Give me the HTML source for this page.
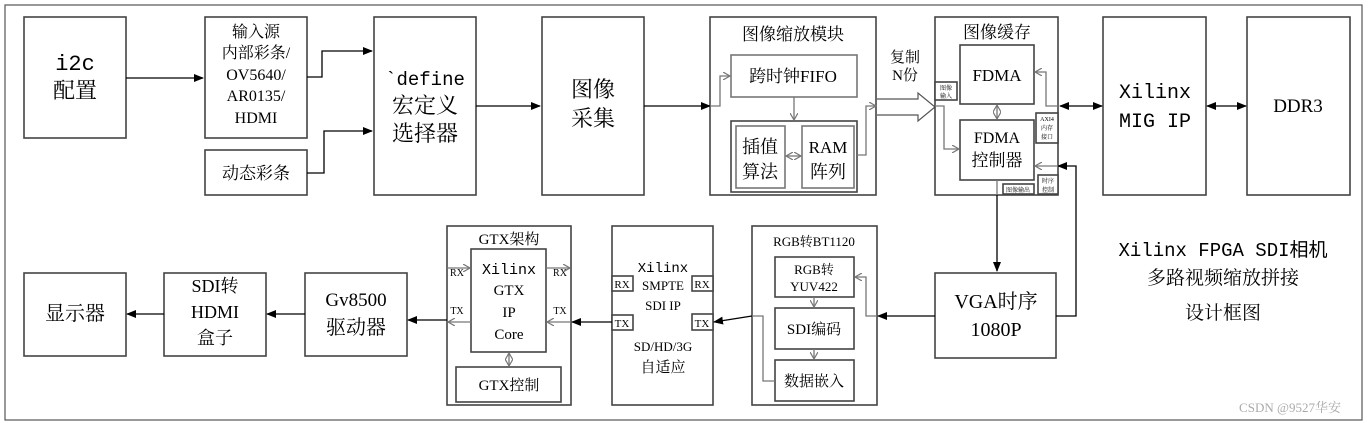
<!DOCTYPE html>
<html><head><meta charset="utf-8"><style>
html,body{margin:0;padding:0;background:#fff;}
svg{display:block;}
text{font-family:"Liberation Serif","Noto Serif CJK SC",serif;fill:#000;text-anchor:middle;}
.m{font-family:"Liberation Mono","Noto Sans CJK SC",monospace;}
.b{fill:#fff;stroke:#444;stroke-width:1.6;}
.g{fill:#fff;stroke:#777;stroke-width:1.6;}
.l{fill:none;stroke:#000;stroke-width:1.3;}
.gl{fill:none;stroke:#777;stroke-width:1.3;}
</style></head><body>
<svg width="1370" height="423" viewBox="0 0 1370 423">
<defs>
<marker id="a" markerWidth="10" markerHeight="8" refX="9" refY="4" orient="auto" markerUnits="userSpaceOnUse"><path d="M0,0 L10,4 L0,8z" fill="#000"/></marker>
<marker id="as" markerWidth="10" markerHeight="8" refX="1" refY="4" orient="auto" markerUnits="userSpaceOnUse"><path d="M10,0 L0,4 L10,8z" fill="#000"/></marker>
<marker id="g" markerWidth="8" markerHeight="8" refX="7" refY="4" orient="auto" markerUnits="userSpaceOnUse"><path d="M0,0 L7,4 L0,8" fill="none" stroke="#777" stroke-width="1.2"/></marker>
<marker id="gs" markerWidth="8" markerHeight="8" refX="1" refY="4" orient="auto" markerUnits="userSpaceOnUse"><path d="M8,0 L1,4 L8,8" fill="none" stroke="#777" stroke-width="1.2"/></marker>
</defs>
<rect x="5" y="5" width="1357" height="415" fill="none" stroke="#555" stroke-width="1.2"/>

<rect class="b" x="24" y="17" width="102" height="121"/>
<text x="75" y="70" font-size="22" class="m">i2c</text><text x="75" y="98" font-size="22">配置</text>
<rect class="b" x="205" y="17" width="102" height="121"/>
<text font-size="16"><tspan x="256" y="37">输入源</tspan><tspan x="256" y="58">内部彩条/</tspan><tspan x="256" y="80">OV5640/</tspan><tspan x="256" y="101">AR0135/</tspan><tspan x="256" y="123">HDMI</tspan></text>
<rect class="b" x="205" y="150" width="102" height="45"/>
<text x="256" y="179" font-size="17">动态彩条</text>
<rect class="b" x="374" y="17" width="102" height="178"/>
<text x="425" y="85" font-size="19" class="m">`define</text>
<text x="425" y="113" font-size="22">宏定义</text><text x="425" y="141" font-size="22">选择器</text>
<rect class="b" x="542" y="17" width="102" height="178"/>
<text x="593" y="97" font-size="22">图像</text><text x="593" y="126" font-size="22">采集</text>

<rect class="b" x="710" y="17" width="166" height="178"/>
<text x="793" y="40" font-size="17">图像缩放模块</text>
<rect class="g" x="731" y="55" width="126" height="42"/>
<text x="793" y="82" font-size="17">跨时钟FIFO</text>
<rect class="b" x="731" y="121" width="126" height="71"/>
<rect class="g" x="736" y="126" width="49" height="62"/>
<text x="760" y="153" font-size="18">插值</text><text x="760" y="178" font-size="18">算法</text>
<rect class="g" x="802" y="126" width="52" height="62"/>
<text x="828" y="153" font-size="17">RAM</text><text x="828" y="178" font-size="18">阵列</text>

<text x="905" y="62" font-size="15" font-family="Liberation Sans,Noto Sans CJK SC,sans-serif">复制</text>
<text x="905" y="80" font-size="15" font-family="Liberation Sans,Noto Sans CJK SC,sans-serif">N份</text>
<path d="M877,99 L918,99 L918,93 L935,107 L918,121 L918,115 L877,115" fill="#fff" stroke="#555" stroke-width="1.2"/>

<rect class="b" x="935" y="17" width="123" height="178"/>
<text x="997" y="38" font-size="17">图像缓存</text>
<rect class="b" x="960" y="45" width="74" height="59"/>
<text x="997" y="81" font-size="17">FDMA</text>
<rect class="b" x="960" y="120" width="74" height="60"/>
<text x="997" y="143" font-size="16">FDMA</text><text x="997" y="166" font-size="17">控制器</text>
<rect class="b" x="935" y="82" width="22" height="18"/><text x="946" y="90" font-size="6">图像</text><text x="946" y="98" font-size="6">输入</text>
<rect class="b" x="1036" y="113" width="22" height="30"/><text x="1047" y="121" font-size="6">AXI4</text><text x="1047" y="130" font-size="6">内存</text><text x="1047" y="139" font-size="6">接口</text>
<rect class="b" x="1038" y="175" width="20" height="19"/><text x="1048" y="183" font-size="6">时序</text><text x="1048" y="192" font-size="6">控制</text>
<rect class="b" x="1003" y="184" width="31" height="10"/><text x="1018" y="192" font-size="6">图像输出</text>

<rect class="b" x="1103" y="17" width="103" height="178"/>
<text x="1155" y="98" font-size="20" class="m">Xilinx</text><text x="1155" y="127" font-size="20" class="m">MIG IP</text>
<rect class="b" x="1247" y="17" width="103" height="178"/>
<text x="1298" y="112" font-size="19" font-family="Liberation Sans,sans-serif">DDR3</text>

<rect class="b" x="935" y="273" width="121" height="85"/>
<text x="996" y="308" font-size="20">VGA时序</text><text x="996" y="336" font-size="20">1080P</text>

<rect class="b" x="752" y="226" width="125" height="179"/>
<text x="814" y="246" font-size="13">RGB转BT1120</text>
<rect class="b" x="775" y="257" width="79" height="40"/>
<text x="814" y="274" font-size="13">RGB转</text><text x="814" y="291" font-size="13">YUV422</text>
<rect class="b" x="775" y="308" width="79" height="41"/><text x="814" y="334" font-size="15">SDI编码</text>
<rect class="b" x="775" y="360" width="79" height="41"/><text x="814" y="386" font-size="15">数据嵌入</text>

<rect class="b" x="612" y="226" width="101" height="179"/>
<text x="663" y="272" font-size="14" class="m">Xilinx</text>
<text x="663" y="290" font-size="13">SMPTE</text><text x="663" y="310" font-size="13">SDI IP</text>
<text x="663" y="351" font-size="13">SD/HD/3G</text><text x="663" y="372" font-size="15">自适应</text>
<rect class="b" x="612" y="276" width="21" height="15"/><text x="622" y="288" font-size="11">RX</text>
<rect class="b" x="692" y="276" width="21" height="15"/><text x="702" y="288" font-size="11">RX</text>
<rect class="b" x="612" y="315" width="21" height="15"/><text x="622" y="327" font-size="11">TX</text>
<rect class="b" x="692" y="314" width="21" height="16"/><text x="702" y="327" font-size="11">TX</text>

<rect class="b" x="447" y="226" width="124" height="179"/>
<text x="509" y="244" font-size="15">GTX架构</text>
<rect class="b" x="471" y="249" width="75" height="103"/>
<text x="509" y="274" font-size="15" class="m">Xilinx</text><text x="509" y="295" font-size="15">GTX</text><text x="509" y="317" font-size="15">IP</text><text x="509" y="339" font-size="15">Core</text>
<rect class="b" x="456" y="367" width="105" height="35"/><text x="509" y="390" font-size="15">GTX控制</text>
<text x="457" y="276" font-size="10">RX</text><text x="560" y="276" font-size="10">RX</text>
<text x="457" y="314" font-size="10">TX</text><text x="560" y="314" font-size="10">TX</text>

<rect class="b" x="305" y="273" width="102" height="83"/>
<text x="356" y="306" font-size="19">Gv8500</text><text x="356" y="334" font-size="20">驱动器</text>
<rect class="b" x="164" y="273" width="102" height="83"/>
<text x="215" y="292" font-size="18">SDI转</text><text x="215" y="318" font-size="18">HDMI</text><text x="215" y="344" font-size="18">盒子</text>
<rect class="b" x="24" y="273" width="102" height="83"/>
<text x="75" y="320" font-size="20">显示器</text>

<text x="1223" y="256" font-size="19" class="m">Xilinx FPGA SDI相机</text>
<text x="1223" y="284" font-size="19">多路视频缩放拼接</text>
<text x="1223" y="319" font-size="19">设计框图</text>
<text x="1290" y="412" font-size="13" font-family="Liberation Sans,Noto Sans CJK SC,sans-serif" style="fill:#aaa">CSDN @9527华安</text>

<path class="l" d="M126,78 H203" marker-end="url(#a)"/>
<path class="l" d="M307,77 H322 V51 H372" marker-end="url(#a)"/>
<path class="l" d="M307,173 H324 V131 H372" marker-end="url(#a)"/>
<path class="l" d="M476,106 H540" marker-end="url(#a)"/>
<path class="l" d="M644,106 H710" marker-end="url(#a)"/>
<path class="gl" d="M710,106 H720 V76 H730" marker-end="url(#g)"/>
<path class="gl" d="M794,97 V120" marker-end="url(#g)"/>
<path class="gl" d="M786,156 H801" marker-start="url(#gs)" marker-end="url(#g)"/>
<path class="gl" d="M857,155 H866 V106 H876" marker-end="url(#g)"/>
<path class="gl" d="M935,106 H944 V149 H959" marker-end="url(#g)"/>
<path class="gl" d="M997,105 V119" marker-start="url(#gs)" marker-end="url(#g)"/>
<path class="gl" d="M1035,72 H1046 V106 H1058" marker-start="url(#gs)"/>
<path class="l" d="M1060,106 H1102" marker-start="url(#as)" marker-end="url(#a)"/>
<path class="l" d="M1207,106 H1246" marker-start="url(#as)" marker-end="url(#a)"/>
<path class="gl" d="M997,180 V195"/>
<path class="l" d="M997,195 V271" marker-end="url(#a)"/>
<path class="l" d="M1056,316 H1076 V166 H1058" marker-end="url(#a)"/>
<path class="gl" d="M1058,166 H1035" marker-end="url(#g)"/>
<path class="l" d="M935,316 H878" marker-end="url(#a)"/>
<path class="gl" d="M877,316 H866 V277 H855" marker-end="url(#g)"/>
<path class="gl" d="M814,297 V307" marker-end="url(#g)"/>
<path class="gl" d="M814,349 V359" marker-end="url(#g)"/>
<path class="gl" d="M775,381 H763 V316 H752"/>
<path class="l" d="M752,316 L714,322" marker-end="url(#a)"/>
<path class="l" d="M612,322 H572" marker-end="url(#a)"/>
<path class="gl" d="M571,322 H547" marker-end="url(#g)"/>
<path class="gl" d="M471,322 H448" marker-end="url(#g)"/>
<path class="gl" d="M447,268 H470" marker-end="url(#g)"/>
<path class="gl" d="M546,268 H570" marker-end="url(#g)"/>
<path class="gl" d="M509,353 V366" marker-start="url(#gs)" marker-end="url(#g)"/>
<path class="l" d="M447,320 H408" marker-end="url(#a)"/>
<path class="l" d="M305,314 H267" marker-end="url(#a)"/>
<path class="l" d="M164,314 H127" marker-end="url(#a)"/>
</svg>
</body></html>
